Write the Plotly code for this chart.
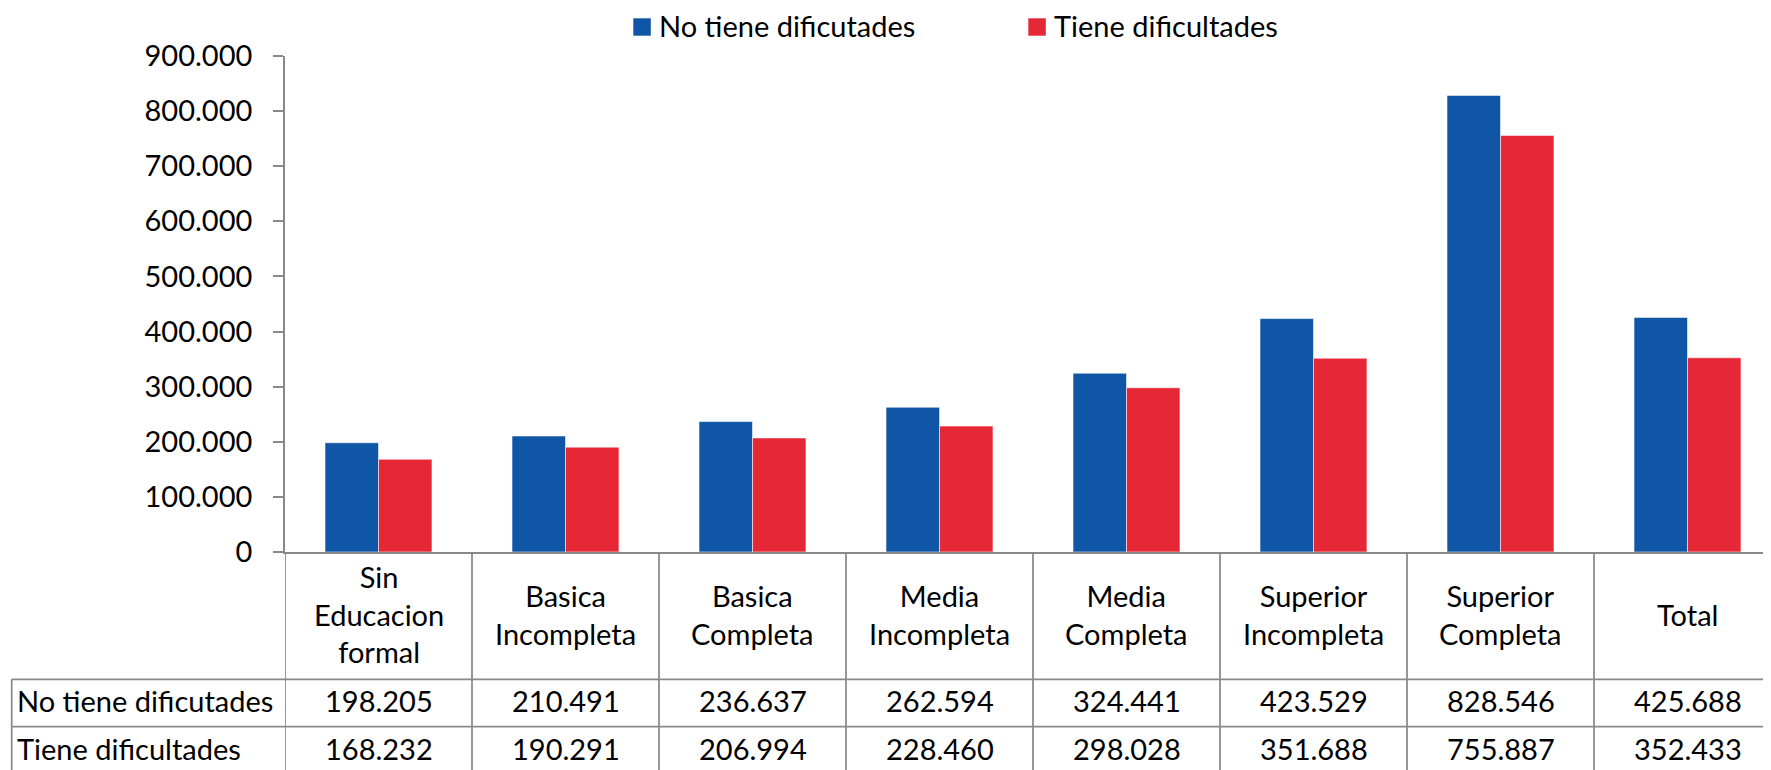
import plotly.graph_objects as go

# ---- data ----
categories = ["Sin Educacion formal", "Basica Incompleta", "Basica Completa",
              "Media Incompleta", "Media Completa", "Superior Incompleta",
              "Superior Completa", "Total"]
header_labels = ["Sin<br>Educacion<br>formal", "Basica<br>Incompleta", "Basica<br>Completa",
                 "Media<br>Incompleta", "Media<br>Completa", "Superior<br>Incompleta",
                 "Superior<br>Completa", "Total"]
series_names = ["No tiene dificutades", "Tiene dificultades"]
no_tiene = [198205, 210491, 236637, 262594, 324441, 423529, 828546, 425688]
tiene = [168232, 190291, 206994, 228460, 298028, 351688, 755887, 352433]
y_ticks = [0, 100000, 200000, 300000, 400000, 500000, 600000, 700000, 800000, 900000]

BLUE = "#1056A7"
RED = "#E62836"
GRID = "#898989"
FONT = "Lato, 'Liberation Sans', Arial, sans-serif"
FS = 29

OFF = 8  # page body margin in the browser
W, H = 1771 - OFF, 770 - OFF
ML, MT, MB = 277, 48, 218
PW, PH = W - ML, H - MT - MB


def px_x(px):
    """screen x pixel -> paper x"""
    return (px - OFF - ML) / PW


def px_y(py):
    """screen y pixel -> paper y"""
    return (H - MB - (py - OFF)) / PH


def fmt(v):
    return f"{v:,}".replace(",", ".")


fig = go.Figure()
fig.add_trace(go.Bar(x=categories, y=no_tiene, name=series_names[0],
                     marker=dict(color=BLUE, line=dict(color="rgba(255,255,255,0.55)", width=1))))
fig.add_trace(go.Bar(x=categories, y=tiene, name=series_names[1],
                     marker=dict(color=RED, line=dict(color="rgba(255,255,255,0.55)", width=1))))

shapes = []
annotations = []
n = len(categories)
y_bottom = px_y(775)
row1_top, row2_top = 679.3, 726.7

# vertical table lines between categories (and at the y axis)
for k in range(n + 1):
    shapes.append(dict(type="line", xref="x", yref="paper", x0=k - 0.5, x1=k - 0.5,
                       y0=0, y1=y_bottom, line=dict(color=GRID, width=1.75)))
# left border of row label column
shapes.append(dict(type="line", xref="paper", yref="paper", x0=px_x(11.7), x1=px_x(11.7),
                   y0=px_y(row1_top), y1=y_bottom, line=dict(color=GRID, width=1.75)))
# horizontal row lines
for ry in (row1_top, row2_top):
    shapes.append(dict(type="line", xref="paper", yref="paper", x0=px_x(11.7), x1=1.02,
                       y0=px_y(ry), y1=px_y(ry), line=dict(color=GRID, width=1.75)))

# header (category) labels
for i, lab in enumerate(header_labels):
    annotations.append(dict(x=categories[i], y=px_y(614), xref="x", yref="paper",
                            text=lab, showarrow=False, xanchor="center", yanchor="middle",
                            font=dict(family=FONT, size=FS, color="black")))
# table values
for row_vals, cy in ((no_tiene, 700.5), (tiene, 748.5)):
    for i, v in enumerate(row_vals):
        annotations.append(dict(x=categories[i], y=px_y(cy), xref="x", yref="paper",
                                text=fmt(v), showarrow=False, xanchor="center", yanchor="middle",
                                font=dict(family=FONT, size=FS, color="black")))
# row labels
for name, cy in ((series_names[0], 700.5), (series_names[1], 748.5)):
    annotations.append(dict(x=px_x(15), y=px_y(cy), xref="paper", yref="paper",
                            text=name, showarrow=False, xanchor="left", yanchor="middle",
                            font=dict(family=FONT, size=FS, color="black")))

# legend (drawn as swatches + text to match the reference's square markers)
legend_items = [(series_names[0], BLUE, 633.3, 656.5), (series_names[1], RED, 1028.3, 1052)]
for name, col, sx, tx in legend_items:
    shapes.append(dict(type="rect", xref="paper", yref="paper", x0=px_x(sx), x1=px_x(sx + 17.5),
                       y0=px_y(35.7), y1=px_y(18.3), fillcolor=col, line=dict(width=0)))
    annotations.append(dict(x=px_x(tx), y=px_y(26), xref="paper", yref="paper", text=name,
                            showarrow=False, xanchor="left", yanchor="middle",
                            font=dict(family=FONT, size=FS, color="black")))

fig.update_layout(
    width=W, height=H,
    margin=dict(l=ML, r=0, t=MT, b=MB, pad=0),
    paper_bgcolor="white", plot_bgcolor="white",
    barmode="group", bargap=0.428, bargroupgap=0,
    showlegend=False,
    separators=",.",
    font=dict(family=FONT, size=FS, color="black"),
    shapes=shapes, annotations=annotations,
    xaxis=dict(range=[-0.5, n - 0.5 - 10 / 187], showticklabels=False, ticks="",
               showline=True, linecolor=GRID, linewidth=1.75, showgrid=False, zeroline=False,
               fixedrange=True),
    yaxis=dict(range=[0, 900000], tickvals=y_ticks, tickformat=",d", ticks="outside",
               ticklen=10, tickwidth=1.75, tickcolor=GRID, showline=True, linecolor=GRID,
               linewidth=1.75, showgrid=False, zeroline=False, ticklabelstandoff=15,
               tickfont=dict(family=FONT, size=FS, color="black")),
)

fig.write_html("out.html")
